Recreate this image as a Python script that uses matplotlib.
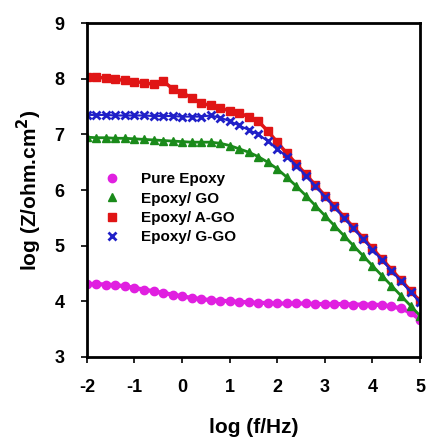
import numpy as np
import matplotlib.pyplot as plt

# log frequency (Hz), step 0.2 from -2 to 5
log_f = [-2.0, -1.8, -1.6, -1.4, -1.2, -1.0, -0.8, -0.6, -0.4, -0.2,
         0.0, 0.2, 0.4, 0.6, 0.8, 1.0, 1.2, 1.4, 1.6, 1.8,
         2.0, 2.2, 2.4, 2.6, 2.8, 3.0, 3.2, 3.4, 3.6, 3.8,
         4.0, 4.2, 4.4, 4.6, 4.8, 5.0]

# log |Z| values
pure_epoxy = [4.31, 4.31, 4.30, 4.29, 4.27, 4.24, 4.21, 4.18, 4.15, 4.12,
              4.09, 4.06, 4.04, 4.02, 4.01, 4.00, 3.99, 3.98, 3.97, 3.97,
              3.96, 3.96, 3.96, 3.96, 3.95, 3.95, 3.95, 3.95, 3.94, 3.94,
              3.94, 3.93, 3.91, 3.87, 3.80, 3.67]
epoxy_go = [6.95, 6.94, 6.94, 6.93, 6.93, 6.92, 6.91, 6.90, 6.89, 6.88,
            6.87, 6.86, 6.86, 6.86, 6.84, 6.80, 6.74, 6.68, 6.60, 6.50,
            6.38, 6.23, 6.07, 5.90, 5.72, 5.54, 5.36, 5.18, 5.00, 4.82,
            4.64, 4.46, 4.28, 4.10, 3.92, 3.74]
epoxy_ago = [8.04, 8.03, 8.01, 7.99, 7.97, 7.95, 7.93, 7.90, 7.96, 7.82,
             7.75, 7.66, 7.56, 7.52, 7.48, 7.42, 7.38, 7.32, 7.24, 7.06,
             6.86, 6.66, 6.47, 6.28, 6.09, 5.90, 5.71, 5.52, 5.33, 5.14,
             4.95, 4.76, 4.57, 4.38, 4.19, 4.00]
epoxy_ggo = [7.35, 7.35, 7.35, 7.34, 7.34, 7.34, 7.34, 7.33, 7.33, 7.33,
             7.32, 7.32, 7.32, 7.34, 7.30, 7.24, 7.16, 7.08, 7.00, 6.88,
             6.74, 6.60, 6.44, 6.26, 6.07, 5.88, 5.69, 5.50, 5.31, 5.12,
             4.93, 4.74, 4.55, 4.36, 4.17, 3.98]

plt.rcParams['font.family'] = ['Liberation Sans', 'DejaVu Sans']
plt.rcParams['font.weight'] = 'bold'
plt.rcParams['axes.unicode_minus'] = False

fig = plt.figure(figsize=(4.26, 4.45), dpi=100)
ax = fig.add_axes([0.204, 0.198, 0.782, 0.75])

ax.plot(log_f, pure_epoxy, '-o', color='#e020e0', lw=3, ms=6, label='Pure Epoxy')
ax.plot(log_f, epoxy_go, '-^', color='#1a8a1a', lw=2, ms=6, label='Epoxy/ GO')
ax.plot(log_f, epoxy_ago, '-s', color='#e01515', lw=2.5, ms=5.5, label='Epoxy/ A-GO')
ax.plot(log_f, epoxy_ggo, '-x', color='#2020c8', lw=1.5, ms=6, mew=2, label='Epoxy/ G-GO')

ax.set_xlim(-2, 5)
ax.set_ylim(3, 9)
ax.set_xticks(range(-2, 6))
ax.set_yticks(range(3, 10))
ax.tick_params(direction='out', length=4, width=1.2, labelsize=13)
ax.tick_params(axis='x', pad=12)
ax.tick_params(axis='y', pad=12)
for lab in ax.get_xticklabels() + ax.get_yticklabels():
    lab.set_fontweight('bold')
for s in ax.spines.values():
    s.set_linewidth(2)

ax.set_xlabel('log (f/Hz)', fontsize=15, fontweight='bold', labelpad=16)
ax.set_ylabel('log (Z/ohm.cm$\\mathbf{^2}$)', fontsize=15, fontweight='bold', labelpad=8)

leg = ax.legend(loc='upper left', bbox_to_anchor=(0.02, 0.585), frameon=False,
                prop={'weight': 'bold', 'size': 11}, handletextpad=1.4,
                labelspacing=0.35, borderaxespad=0.3, handlelength=1.0)
for h in leg.legend_handles:
    h.set_linestyle('none')

fig.savefig('out.png', dpi=100)
